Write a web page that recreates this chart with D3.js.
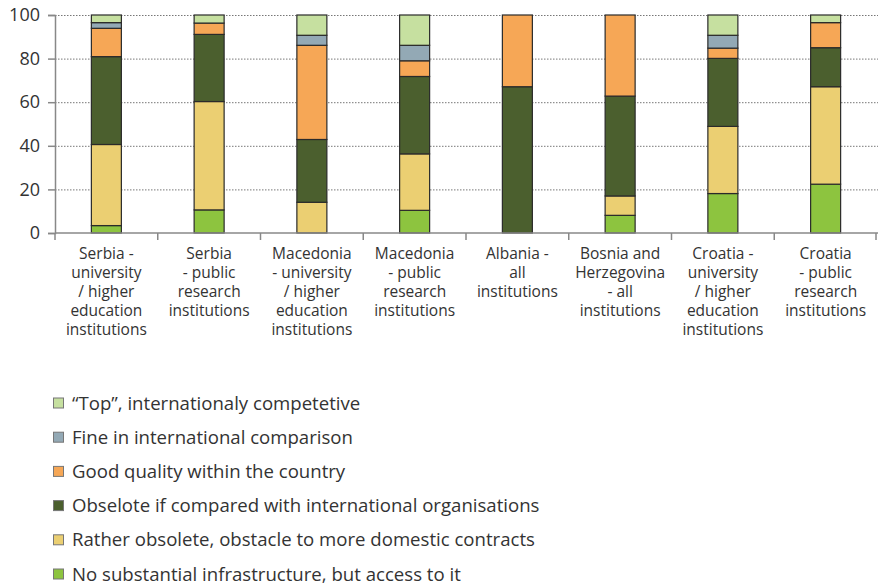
<!DOCTYPE html>
<html><head><meta charset="utf-8">
<script src="https://cdn.jsdelivr.net/npm/d3@7"></script>
<style>body{margin:0;background:#fff}svg{display:block}text{font-family:"Open Sans",sans-serif;fill:#333}</style>
</head><body>
<svg id="c" width="878" height="587"></svg>
<script>
const categories = [
  ["Serbia -","university","/ higher","education","institutions"],
  ["Serbia","- public","research","institutions"],
  ["Macedonia","- university","/ higher","education","institutions"],
  ["Macedonia","- public","research","institutions"],
  ["Albania -","all","institutions"],
  ["Bosnia and","Herzegovina","- all","institutions"],
  ["Croatia -","university","/ higher","education","institutions"],
  ["Croatia","- public","research","institutions"]
];
const seriesNames = [
  "No substantial infrastructure, but access to it",
  "Rather obsolete, obstacle to more domestic contracts",
  "Obselote if compared with international organisations",
  "Good quality within the country",
  "Fine in international comparison",
  "\u201CTop\u201D, internationaly competetive"
];
const noAccess    = [3.4, 10.6, 0,    10.4, 0,    8.1, 18.1, 22.4];
const rather      = [37.2, 49.7, 14.1, 25.9, 0,    8.9, 30.8, 44.7];
const obsolete    = [40.3, 30.8, 28.8, 35.5, 67.1, 45.8, 31.2, 17.9];
const goodQual    = [13.0, 5.2,  43.2, 7.2,  32.9, 37.2, 4.7, 11.5];
const fineIntl    = [2.6,  0,    4.6,  7.1,  0,    0,    5.9, 0];
const topCompet   = [3.5,  3.7,  9.3,  13.9, 0,    0,    9.3, 3.5];
const yTicks = [0, 20, 40, 60, 80, 100];
const colors = ["#8dc43f","#ebcf72","#4b5f2e","#f6a756","#93a9b5","#c6e0a0"];

const series = [noAccess, rather, obsolete, goodQual, fineIntl, topCompet];
const svg = d3.select("#c");
const x0 = 55, x1 = 877, yTop = 15, yBot = 233;
const x = d3.scaleBand().domain(d3.range(categories.length)).range([x0, x1]).padding(0);
const y = d3.scaleLinear().domain([0,100]).range([yBot, yTop]);

// gridlines
svg.append("g").selectAll("line").data(yTicks.filter(d=>d>0)).join("line")
  .attr("x1", x0).attr("x2", 878).attr("y1", d=>y(d)+0.5).attr("y2", d=>y(d)+0.5)
  .attr("stroke", "#777").attr("stroke-width", 1).attr("stroke-dasharray", "1.5,1.5");

// stacked bars
const rows = categories.map((c,i)=>{ const o={i}; series.forEach((s,k)=>o[k]=s[i]); return o; });
const stack = d3.stack().keys(d3.range(series.length))(rows);
const bw = 30;
svg.append("g").selectAll("g").data(stack).join("g")
  .attr("fill", (d,k)=>colors[k])
  .selectAll("rect").data(d=>d.filter(p=>p[1]-p[0]>0)).join("rect")
  .attr("x", d=>x(d.data.i)+x.bandwidth()/2-bw/2)
  .attr("width", bw)
  .attr("y", d=>y(d[1]))
  .attr("height", d=>y(d[0])-y(d[1]))
  .attr("stroke", "#2a2a2a").attr("stroke-width", 1.2);

// y axis
const ya = svg.append("g").attr("transform", `translate(${x0},0)`)
  .call(d3.axisLeft(y).tickValues(yTicks).tickSize(7).tickPadding(8));
ya.select(".domain").attr("stroke", "#888").attr("stroke-width", 1.5);
ya.selectAll(".tick line").attr("stroke", "#888").attr("stroke-width", 1.5);
ya.selectAll("text").style("font-size", "18px").attr("fill", "#333").style("font-family", "Open Sans");

// x axis
const xa = svg.append("g").attr("transform", `translate(0,${yBot})`);
xa.append("line").attr("x1", x0).attr("x2", 878).attr("y1", 0).attr("y2", 0).attr("stroke", "#888").attr("stroke-width", 1.5);
xa.selectAll("line.t").data(d3.range(categories.length+1)).join("line").attr("class","t")
  .attr("x1", i=> i<categories.length ? x(i) : x1-1).attr("x2", i=> i<categories.length ? x(i) : x1-1)
  .attr("y1", 0).attr("y2", 7).attr("stroke", "#888").attr("stroke-width", 1.5);
const lab = xa.selectAll("text.lab").data(categories).join("text").attr("class","lab")
  .attr("text-anchor", "middle").attr("transform", (d,i)=>`translate(${x(i)+x.bandwidth()/2},0)`)
  .style("font-size", "15.5px");
lab.selectAll("tspan").data(d=>d).join("tspan").attr("x", 0).attr("y", (d,j)=>26+19*j).text(d=>d);

// legend
const legendOrder = [5,4,3,2,1,0];
const lg = svg.append("g").selectAll("g").data(legendOrder).join("g")
  .attr("transform", (k,j)=>`translate(53,${403+34.2*j})`);
lg.append("rect").attr("x", 0.5).attr("y", -5).attr("width", 10).attr("height", 10)
  .attr("fill", k=>colors[k]).attr("stroke", "#777").attr("stroke-width", 1);
lg.append("text").attr("x", 19).attr("y", 0).attr("dy", "0.35em").style("font-size", "18.6px").text(k=>seriesNames[k]);
</script>
</body></html>
